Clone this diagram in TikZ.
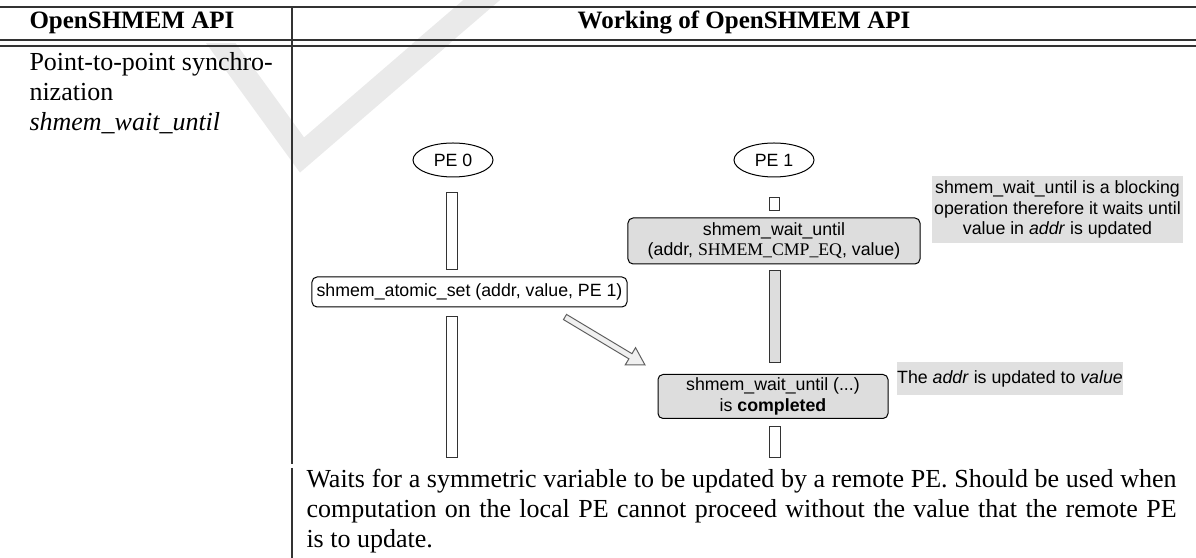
\documentclass[tikz,border=0pt]{standalone}
\usepackage{fontspec}
\setmainfont{Liberation Serif}
\setsansfont{Liberation Sans}
\usepackage{tikz}
\usetikzlibrary{shapes.geometric}
\usetikzlibrary{calc}

\definecolor{boxgray}{HTML}{DDDDDD}
\definecolor{notegray}{HTML}{E0E0E0}
\definecolor{markgray}{HTML}{EAEAEA}
\definecolor{linegray}{HTML}{333333}

\newcommand{\dia}{\sffamily\fontsize{7.1}{8.1}\selectfont}

\begin{document}
\begin{tikzpicture}[x=0.4pt, y=-0.4pt, font=\fontsize{10.4}{12.5}\selectfont,
    txt/.style={inner sep=0pt, anchor=base west},
    rule/.style={line width=0.55pt, draw=linegray},
    pe/.style={ellipse, draw, line width=0.4pt, minimum width=32pt, minimum height=13.6pt, inner sep=0pt, font=\dia},
    bar/.style={draw=linegray, line width=0.4pt, fill=white, minimum width=4.4pt, inner sep=0pt},
    call/.style={draw, line width=0.4pt, rounded corners=2pt, fill=white, font=\dia, align=center, inner sep=0pt},
    waitbox/.style={call, fill=boxgray},
    note/.style={fill=notegray, font=\dia, align=center, inner sep=0pt}]
\useasboundingbox (0,0) rectangle (1196,558);
% watermark
\begin{scope}
  \clip (0,44) rectangle (1196,558);
  \draw[markgray, line width=9.6pt, line join=miter] (175,-20) -- (302,155) -- (505,-20);
\end{scope}
\draw[markgray, line width=9.6pt] (505,-20) -- (420,53);

% table
\draw[rule] (0,7) -- (1196,7);
\draw[rule] (0,40) -- (1196,40);
\draw[rule] (0,46) -- (1196,46);
\draw[rule] (292,7) -- (292,464);
\draw[rule] (292,468) -- (292,558);
\node[txt, font=\bfseries] (headapi) at (29,29) {OpenSHMEM API};
\node[inner sep=0pt, anchor=base, font=\bfseries] (headwork) at (744,29) {Working of OpenSHMEM API};
\node[txt] (kind1) at (29,71) {Point-to-point synchro-};
\node[txt] (kind2) at (29,101) {nization};
\node[txt] (kind3) at (29,131) {\textit{shmem\_wait\_until}};

% processes
\node[pe] (pe0) at (453,160) {PE 0};
\node[pe] (pe1) at (774,160) {PE 1};
\node[bar, minimum height=30.8pt] (bar0a) at (452,231.5) {};
\node[call, minimum width=126pt, minimum height=12pt] (atomic) at (469.5,292) {shmem\_atomic\_set (addr, value, PE 1)};
\node[bar, minimum height=56.4pt] (bar0b) at (452,387.5) {};

\node[bar, minimum height=5.2pt, minimum width=4pt] (bar1a) at (774,204.5) {};
\node[waitbox, minimum width=116.8pt, minimum height=18.4pt] (wait) at (774,241)
  {shmem\_wait\_until\\(addr, {\rmfamily SHMEM\_CMP\_EQ}, value)};
\node[bar, fill=boxgray, minimum height=36.8pt] (bar1b) at (774.5,317) {};
\node[waitbox, minimum width=92pt, minimum height=17.6pt] (done) at (773,396.5)
  {shmem\_wait\_until (...)\\is \textbf{completed}};
\node[bar, minimum height=12.4pt] (bar1c) at (774.5,442.5) {};

% notes
\node[note, minimum width=100.4pt, minimum height=26.8pt] (note1) at (1057.5,209.5)
  {shmem\_wait\_until is a blocking\\operation therefore it waits until\\value in \textit{addr} is updated};
\node[note, minimum width=89.6pt, minimum height=13.2pt] (note2) at (1010,378.5)
  {The \textit{addr} is updated to \textit{value}};

% put arrow
\coordinate (tail) at (565,317);
\coordinate (tip) at (645,365);
\coordinate (hb) at ($(tip)!6.8pt!(tail)$);
\filldraw[draw=gray!75!black, fill=gray!12, line width=0.4pt, line join=miter]
  ($(tail)!1.2pt!90:(tip)$) -- ($(hb)!1.2pt!90:(tip)$) -- ($(hb)!4pt!90:(tip)$) -- (tip)
  -- ($(hb)!4pt!-90:(tip)$) -- ($(hb)!1.2pt!-90:(tip)$) -- ($(tail)!1.2pt!-90:(tip)$) -- cycle;

% description
\node[txt] (desc1) at (306,488) {\makebox[348pt][s]{Waits for a symmetric variable to be updated by a remote PE. Should be used when}};
\node[txt] (desc2) at (306,518) {\makebox[348pt][s]{computation on the local PE cannot proceed without the value that the remote PE}};
\node[txt] (desc3) at (306,548) {is to update.};
\end{tikzpicture}
\end{document}
